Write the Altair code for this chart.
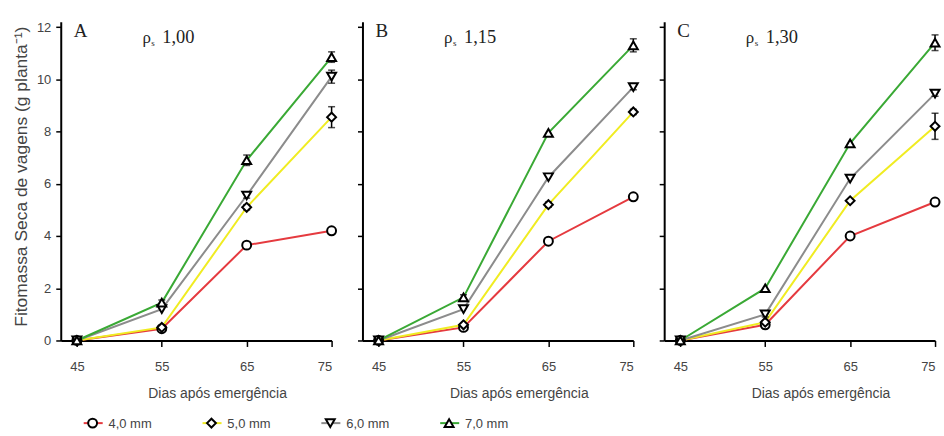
import altair as alt
import pandas as pd

# ---------------- data ----------------
days = [45, 55, 65, 75]
series = ["4,0 mm", "5,0 mm", "6,0 mm", "7,0 mm"]
colors = ["#e53a3f", "#f0ec22", "#8c8c8c", "#3aa935"]
shapes = ["circle", "diamond", "triangle-down", "triangle-up"]
panel_letters = ["A", "B", "C"]
densities = ["1,00", "1,15", "1,30"]

# values per panel, rows follow `series`, columns follow `days`
vals_A = [
    [0.0, 0.45, 3.65, 4.2],
    [0.0, 0.5, 5.1, 8.55],
    [0.0, 1.2, 5.55, 10.1],
    [0.0, 1.45, 6.9, 10.85],
]
vals_B = [
    [0.0, 0.5, 3.8, 5.5],
    [0.0, 0.6, 5.2, 8.75],
    [0.0, 1.2, 6.25, 9.7],
    [0.0, 1.65, 7.95, 11.3],
]
vals_C = [
    [0.0, 0.6, 4.0, 5.3],
    [0.0, 0.7, 5.35, 8.2],
    [0.0, 1.0, 6.2, 9.45],
    [0.0, 2.0, 7.55, 11.4],
]
# standard errors
err_A = [
    [0.0, 0.0, 0.0, 0.1],
    [0.0, 0.0, 0.1, 0.4],
    [0.0, 0.0, 0.1, 0.25],
    [0.0, 0.1, 0.2, 0.2],
]
err_B = [
    [0.0, 0.0, 0.1, 0.1],
    [0.0, 0.0, 0.1, 0.1],
    [0.0, 0.0, 0.0, 0.1],
    [0.0, 0.1, 0.0, 0.25],
]
err_C = [
    [0.0, 0.0, 0.0, 0.0],
    [0.0, 0.0, 0.0, 0.5],
    [0.0, 0.1, 0.0, 0.1],
    [0.0, 0.0, 0.0, 0.3],
]
all_vals = [vals_A, vals_B, vals_C]
all_errs = [err_A, err_B, err_C]

FONT = "Liberation Sans"
SERIF = "Liberation Serif"
TXT = "#444444"
Y_TITLE = "Fitomassa Seca de vagens (g planta⁻¹)"
MSIZE = 80

color_scale = alt.Scale(domain=series, range=colors)
shape_scale = alt.Scale(domain=series, range=shapes)


def make_panel(p):
    rows = []
    for si, s in enumerate(series):
        for di, d in enumerate(days):
            v = all_vals[p][si][di]
            e = all_errs[p][si][di]
            rows.append({"series": s, "order": si, "day": d, "value": v,
                         "err": e, "lo": v - e, "hi": v + e})
    df = pd.DataFrame(rows)

    x = alt.X("day:Q",
              scale=alt.Scale(domain=[43.1, 75], nice=False, zero=False),
              axis=alt.Axis(values=days, title="Dias após emergência",
                            titleX=157, titleAnchor="start", titleAlign="center",
                            titlePadding=13))
    if p == 0:
        yaxis = alt.Axis(values=[0, 2, 4, 6, 8, 10, 12],
                         title=Y_TITLE, titlePadding=6, titleY=155)
        ytitle = Y_TITLE
    else:
        yaxis = alt.Axis(values=[0, 2, 4, 6, 8, 10, 12], labels=False, title=None)
        ytitle = None
    yscale = alt.Scale(domain=[0, 12.2], nice=False)
    y = alt.Y("value:Q", scale=yscale, axis=yaxis, title=ytitle)

    base = alt.Chart(df)
    lines = base.mark_line(strokeWidth=2).encode(
        x=x, y=y,
        color=alt.Color("series:N", scale=color_scale, legend=None),
        order="day:Q",
    )
    errs = base.transform_filter("datum.err > 0").mark_errorbar(
        ticks=alt.MarkConfig(size=7, color="black", strokeWidth=1.5),
        color="black", thickness=1.5).encode(
        x="day:Q", y=alt.Y("lo:Q", title=ytitle), y2="hi:Q")
    pts = base.mark_point(filled=True, fill="white", stroke="black",
                          strokeWidth=2, size=MSIZE, opacity=1).encode(
        x="day:Q", y=alt.Y("value:Q", title=ytitle),
        shape=alt.Shape("series:N", scale=shape_scale, legend=None),
    )

    lab = pd.DataFrame({"letter": [panel_letters[p]], "dens": [densities[p]],
                        "rho": ["ρ"], "sub": ["s"]})
    tb = alt.Chart(lab)
    t_letter = tb.mark_text(font=SERIF, fontSize=19, align="left",
                            baseline="alphabetic", color="#222").encode(
        text="letter:N", x=alt.value(13), y=alt.value(15))
    t_rho = tb.mark_text(font=SERIF, fontSize=17, align="left",
                         baseline="alphabetic", color="#222").encode(
        text="rho:N", x=alt.value(82), y=alt.value(21))
    t_sub = tb.mark_text(font=SERIF, fontSize=9, align="left",
                         baseline="alphabetic", color="#222").encode(
        text="sub:N", x=alt.value(91), y=alt.value(24))
    t_dens = tb.mark_text(font=SERIF, fontSize=18.5, align="left",
                          baseline="alphabetic", color="#222").encode(
        text="dens:N", x=alt.value(102), y=alt.value(21))

    layers = [lines, errs, pts, t_letter, t_rho, t_sub, t_dens]
    chart = alt.layer(*layers)

    if p == 0:
        leg = pd.DataFrame({"series": series, "idx": list(range(len(series)))})
        lb = alt.Chart(leg)
        lx = alt.Scale(domain=[0, 3], range=[32, 390])
        leg_line = lb.transform_calculate(
            left="datum.idx - 0.075", right="datum.idx + 0.085"
        ).transform_fold(["left", "right"], as_=["end", "pos"]).mark_line(
            strokeWidth=2).encode(
            x=alt.X("pos:Q", scale=lx, axis=None),
            y=alt.value(403),
            detail="series:N",
            color=alt.Color("series:N", scale=color_scale, legend=None))
        leg_pt = lb.mark_point(filled=True, fill="white", stroke="black",
                               strokeWidth=2, size=MSIZE, opacity=1).encode(
            x=alt.X("idx:Q", scale=lx, axis=None), y=alt.value(403),
            shape=alt.Shape("series:N", scale=shape_scale, legend=None))
        leg_txt = lb.mark_text(font=FONT, fontSize=13, align="left",
                               baseline="middle", dx=16, color=TXT).encode(
            x=alt.X("idx:Q", scale=lx, axis=None), y=alt.value(404),
            text="series:N")
        legend = alt.layer(leg_line, leg_pt, leg_txt)
        chart = alt.layer(chart, legend).resolve_scale(x="independent")

    return chart.properties(width=272, height=320)


chart = alt.hconcat(make_panel(0), make_panel(1), make_panel(2),
                    spacing=31, bounds="flush").properties(
    padding={"left": 12, "top": 20, "right": 0, "bottom": 0}
).configure_view(stroke=None).configure_axis(
    grid=False,
    domainColor="black", domainWidth=2,
    tickColor="black", tickWidth=1.5, tickSize=5,
    labelFont=FONT, labelFontSize=13, labelColor=TXT, labelPadding=5,
    titleFont=FONT, titleFontSize=14, titleColor=TXT, titleFontWeight="normal",
).configure_axisY(titleFontSize=17.5).configure_axisX(labelPadding=14, tickSize=6)

chart.save("out.html", embed_options={"renderer": "svg", "actions": False})
